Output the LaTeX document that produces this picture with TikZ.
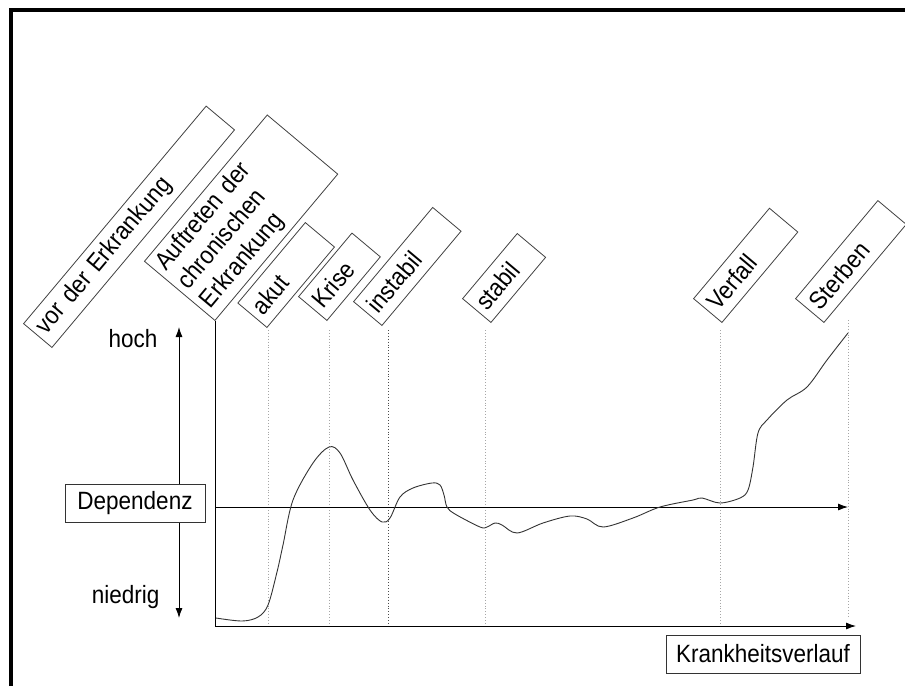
\documentclass[tikz,border=0pt]{standalone}
\usepackage{fontspec}
\setmainfont{Liberation Sans}[FakeStretch=0.9]
\usepackage{tikz}
\usetikzlibrary{arrows.meta,positioning,calc}

\begin{document}
\begin{tikzpicture}[x=1pt, y=-1pt, >={Latex[length=10pt, width=7pt]},
		font=\fontsize{25}{27}\selectfont,
		phase/.style={draw=black!75, line width=0.8pt, rotate=50, anchor=south west,
			minimum height=37pt, inner xsep=6pt, inner ysep=3pt, align=left},
		label box/.style={draw=black!80, line width=0.8pt, fill=white, inner sep=0pt},
		guide/.style={draw=black!35, dotted, line width=0.9pt},
		axis/.style={line width=0.9pt},
		curve/.style={draw=black!80, line width=0.9pt}]
		\useasboundingbox (0,0) rectangle (905,686);
		\draw[line width=4pt] (10.5,686) |- (905,9.5);

		% phases along the course
		\node[phase, text width=272pt] (vor) at (52,348) {vor der Erkrankung};
		\node[phase, text width=179pt, minimum height=92pt, font=\fontsize{25}{29}\selectfont] (auf) at (215,321) {Auftreten der\\chronischen\\Erkrankung};
		\node[phase, text width=93pt, minimum height=38pt] (akut) at (267,328) {akut};
		\node[phase, text width=71pt] (krise) at (327,321) {Krise};
		\node[phase, text width=111pt] (instabil) at (382,326) {instabil};
		\node[phase, text width=73pt] (stabil) at (491,323) {stabil};
		\node[phase, text width=106pt] (verfall) at (722,323) {Verfall};
		\node[phase, text width=116pt] (sterben) at (824,323) {Sterben};

		\coordinate (o) at (215,626);
		\coordinate (xend) at (856,626);
		\coordinate (d0) at (215,507);
		\coordinate (d1) at (848,507);
		\coordinate (top) at (179,327);
		\coordinate (bot) at (179,618);

		\foreach \x in {268,329,485,720} {
			\draw[guide] (\x,330) -- (\x,626);
		}
		\draw[guide, draw=black!70] (388,330) -- (388,626);
		\draw[guide] (848,320) -- (848,617);

		% axes
		\draw[axis] (auf.south west) -- (o);
		\draw[axis, ->] (o) -- (xend);
		\draw[axis, ->] (d0) -- (d1);
		\draw[axis, <->] (top) -- (bot);

		\node[label box, minimum width=140pt, minimum height=38pt] (dep) at (135,503) {Dependenz};
		\node[label box, minimum width=194pt, minimum height=38pt] (verlauf) at (763,654) {Krankheitsverlauf};
		\node[anchor=base east] (hoch) at (161,347) {hoch};
		\node[anchor=base east] (niedrig) at (163,603) {niedrig};

		\draw[curve] plot[smooth, tension=0.55] coordinates {
			(216,618) (242,621) (258,617) (268,605) (277,572) (283,545) (293,500)
			(313,463) (329,447) (340,453) (353,480) (370,510) (382,522) (390,518)
			(400,497) (413,488) (432,483) (440,485) (444,495) (447,507) (455,514)
			(480,527) (487,527) (495,523) (502,525) (517,533) (543,523) (570,516)
			(587,519) (603,527) (633,518) (660,507) (693,500) (702,498) (720,503)
			(740,498) (748,490) (753,467) (758,433) (767,420) (787,400) (807,387)
			(827,360) (848,333)};
	\end{tikzpicture}
\end{document}
